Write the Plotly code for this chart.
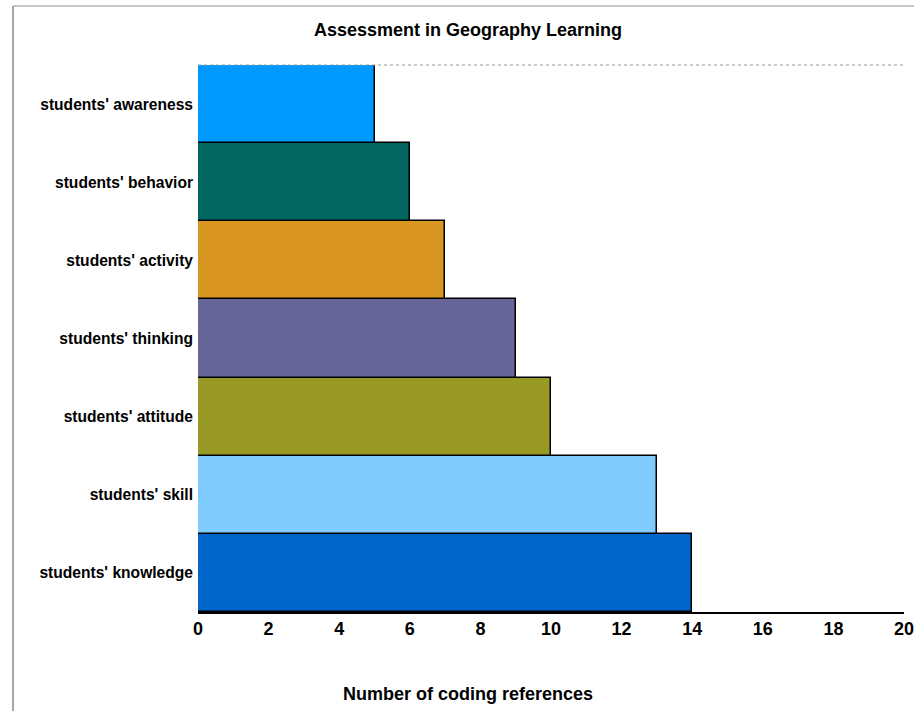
import plotly.graph_objects as go

categories = ["students' knowledge", "students' skill", "students' attitude",
              "students' thinking", "students' activity", "students' behavior",
              "students' awareness"]
values = [14, 13, 10, 9, 7, 6, 5]
colors = ["#0066CC", "#80CCFF", "#999926", "#666699", "#D99621", "#00665F", "#0099FF"]
x_ticks = [0, 2, 4, 6, 8, 10, 12, 14, 16, 18, 20]

W, H = 914, 711
L, R, T, B = 198, 10, 65, 99

fig = go.Figure(go.Bar(
    y=categories, x=values, orientation="h",
    marker=dict(color=colors, line=dict(color="black", width=1.5)),
    hoverinfo="x+y",
))

fnt = "Liberation Sans, Arial, sans-serif"
pw = W - L - R
ph = H - T - B

def px_x(p):
    return (p - L) / pw

def px_y(p):
    return (H - B - p) / ph

fig.update_layout(
    width=W, height=H,
    margin=dict(l=L, r=R, t=T, b=B, autoexpand=False),
    plot_bgcolor="white", paper_bgcolor="white",
    bargap=0,
    showlegend=False,
    font=dict(family=fnt, color="black"),
    xaxis=dict(range=[0, 20], tickvals=x_ticks, showgrid=False, zeroline=False,
               showline=True, linecolor="black", linewidth=1.5, ticks="",
               tickfont=dict(family=fnt, size=18, color="black", weight="bold"),
               ticklabeloverflow="allow", automargin=False, fixedrange=True),
    yaxis=dict(showgrid=False, zeroline=False, showline=False, ticks="",
               categoryorder="array", categoryarray=categories,
               tickfont=dict(family=fnt, size=15.6, color="black", weight="bold"),
               ticklabelstandoff=4, automargin=False, fixedrange=True),
    shapes=[
        dict(type="line", xref="x", yref="paper", x0=0, x1=20, y0=1, y1=1,
             line=dict(color="#999999", width=1, dash="dot")),
        dict(type="line", xref="paper", yref="paper", x0=px_x(13), x1=px_x(914),
             y0=px_y(6), y1=px_y(6), line=dict(color="#C8C8C8", width=2)),
        dict(type="line", xref="paper", yref="paper", x0=px_x(13), x1=px_x(13),
             y0=px_y(6), y1=px_y(711), line=dict(color="#888888", width=1.5)),
    ],
    annotations=[
        dict(text="<b>Assessment in Geography Learning</b>", xref="paper", yref="paper",
             x=px_x(468), y=px_y(30), showarrow=False, xanchor="center", yanchor="middle",
             font=dict(family=fnt, size=18, color="black")),
        dict(text="<b>Number of coding references</b>", xref="paper", yref="paper",
             x=px_x(468), y=px_y(694), showarrow=False, xanchor="center", yanchor="middle",
             font=dict(family=fnt, size=18, color="black")),
    ],
)

fig.write_html("out.html", config={"displayModeBar": False},
               post_script="document.body.style.margin='0';document.body.style.overflow='hidden';")
